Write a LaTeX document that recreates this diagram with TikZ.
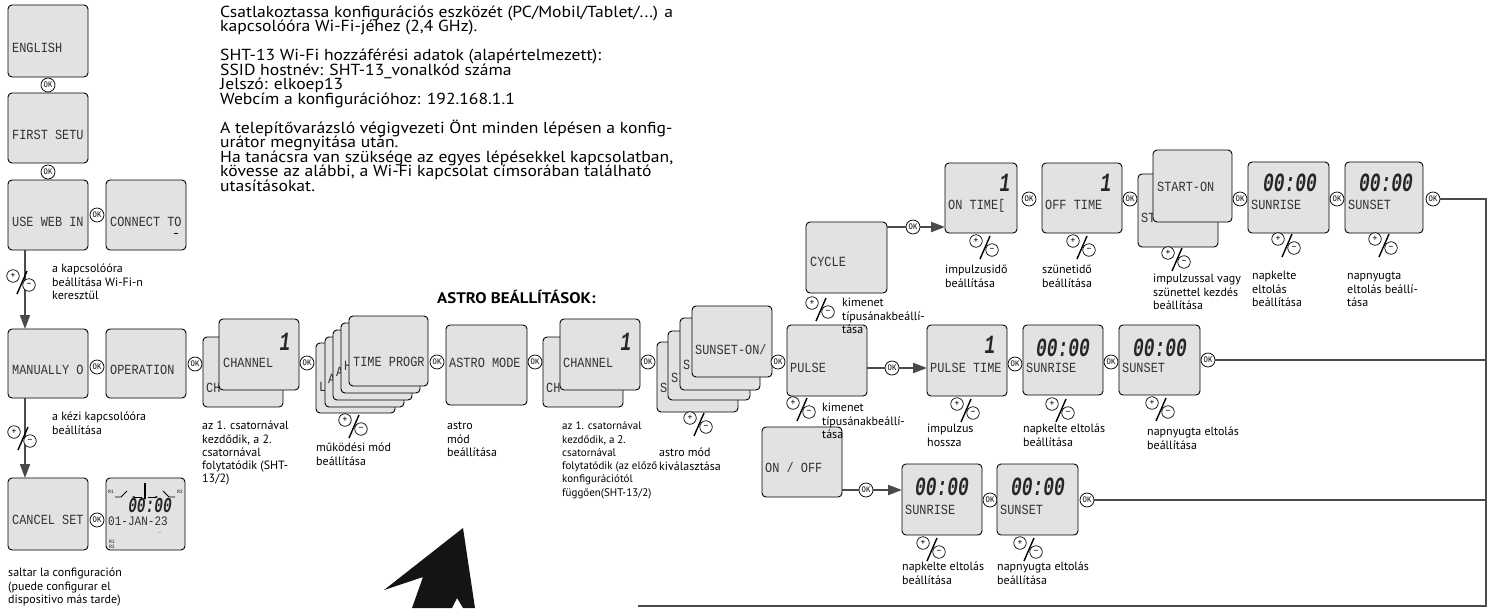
\documentclass[tikz,border=0pt]{standalone}
\usepackage{fontspec}
\usepackage{graphicx}
\setmainfont{PT Sans}
\newfontfamily\widef[FakeStretch=1.1]{PT Sans}
\newfontfamily\lcd[FakeStretch=0.85]{Liberation Mono}
\usetikzlibrary{arrows.meta}
\definecolor{boxfill}{HTML}{E2E2E2}
\definecolor{linecol}{HTML}{4A4A4A}
\newcommand\bigdig[1]{\scalebox{1}[1.25]{#1}}
\newcommand\tightls{\setlength{\lineskiplimit}{-20pt}}
\tikzset{
  lcdbox/.style={draw=black, line width=0.9pt, fill=boxfill, rounded corners=4pt, inner sep=0pt, outer sep=0pt, anchor=north west},
  lcdtxt/.style={anchor=west, inner sep=0pt, text height=8pt, text depth=0pt, font=\lcd\fontsize{14}{14}\selectfont, text=black!80},
  bigd/.style={inner sep=0pt, font=\lcd\bfseries\itshape\fontsize{21}{21}\selectfont, text=black!85},
  okc/.style={circle, draw=black, line width=0.75pt, fill=white, minimum size=14pt, inner sep=0pt, font=\lcd\fontsize{8.5}{8.5}\selectfont},
  pmc/.style={circle, draw=black, line width=0.7pt, fill=white, minimum size=12.5pt, inner sep=0pt, font=\fontsize{9.5}{9.5}\selectfont},
  lbltxt/.style={anchor=north west, inner sep=0pt, align=left, font=\fontsize{12}{13.3}\selectfont\tightls},
  flow/.style={draw=linecol, line width=2.2pt},
  vflow/.style={draw=linecol, line width=1.8pt},
  ret/.style={draw=linecol, line width=2.8pt},
  arr/.style={-{Triangle[length=14pt,width=10pt]}},
  tinyt/.style={inner sep=0pt, font=\lcd\fontsize{5}{5}\selectfont},
  pmsym/.pic={
    \node[pmc] (-p) at (0,0) {+};
    \node[pmc] (-m) at (16,9) {–};
    \draw[line width=1.4pt] (14,-5) -- (4,18);
  }
}
\newcommand\lcdb[5]{\node[lcdbox,minimum width=#4pt,minimum height=#5pt] (#1) at (#2,#3) {};}
\newcommand\lct[4]{\node[lcdtxt] (#1) at (#2,#3) {#4};}
\newcommand\okn[3]{\node[okc] (#1) at (#2,#3) {OK};}
\newcommand\lbl[5][]{\node[lbltxt,#1] (#2) at (#3,#4-7) {\rule{0pt}{11.5pt}#5};}
\newcommand\pmat[3]{\pic (#1) at (#2,#3) {pmsym};}
\begin{document}
\begin{tikzpicture}[x=1pt,y=-1pt]
\useasboundingbox (0,0) rectangle (1496,608);

% header text
\node[anchor=north west, inner sep=0pt, align=left, font=\widef\fontsize{16}{14.5}\selectfont\tightls] (hdr) at (220,4) {\rule{0pt}{13pt}Csatlakoztassa konfigurációs eszközét (PC/Mobil/Tablet/...) a\\
kapcsolóóra Wi-Fi-jéhez (2,4 GHz).\\[14.5pt]
SHT-13 Wi-Fi hozzáférési adatok (alapértelmezett):\\
SSID hostnév: SHT-13\_vonalkód száma\\
Jelszó: elkoep13\\
Webcím a konfigurációhoz: 192.168.1.1\\[14.5pt]
A telepítővarázsló végigvezeti Önt minden lépésen a konfig-\\
urátor megnyitása után.\\
Ha tanácsra van szüksége az egyes lépésekkel kapcsolatban,\\
kövesse az alábbi, a Wi-Fi kapcsolat címsorában található\\
utasításokat.};

\node[anchor=west, inner sep=0pt, font=\widef\bfseries\fontsize{15.3}{15.3}\selectfont] (astrotitle) at (437,297) {ASTRO BEÁLLÍTÁSOK:};

% ---------- left column ----------
\lcdb{eng}{8}{5}{80}{72}   \lct{engt}{12}{48}{ENGLISH}
\lcdb{fs}{8}{93}{80}{70}   \lct{fst}{12}{135}{FIRST SETU}
\lcdb{web}{8}{180}{80}{70} \lct{webt}{12}{222}{USE WEB IN}
\lcdb{con}{106}{180}{80}{70} \lct{cont}{110}{222}{CONNECT TO}
\draw[line width=0.7pt] (con.south east) ++(-8pt,17pt) -- ++(-4pt,0pt);
\okn{ok1}{48}{85}
\okn{ok2}{48}{172}
\okn{ok3}{97}{215}

\lcdb{man}{8}{329}{80}{69} \lct{mant}{12}{370}{MANUALLY O}
\lcdb{op}{106}{329}{80}{69} \lct{opt}{110}{370}{OPERATION}
\okn{ok4}{97}{367}

\lcdb{cancel}{8}{478}{80}{72} \lct{cancelt}{12}{520}{CANCEL SET}
\lcdb{clock}{106}{478}{79}{72}
\okn{okcl}{97}{520}

% vertical connectors
\coordinate (v1) at ([xshift=17pt]web.south west);
\coordinate (v2) at ([xshift=17pt]man.south west);
\draw[vflow,arr] (v1) -- (v1 |- man.north);
\draw[vflow,arr] (v2) -- (v2 |- cancel.north);
\pmat{pm1}{13}{276}
\pmat{pm2}{14}{432}

% clock display
\node[tinyt] (r1) at (111,492) {R1};
\node[tinyt] (r2) at (180,492) {R2};
\draw[line width=0.8pt] (115,497) -- (121,497) -- (127,491);
\draw[line width=0.7pt,-{Stealth[length=3pt]}] (142,497) -- (132,497);
\draw[line width=1.2pt] (145,483) -- (145,499);
\draw[line width=0.7pt,-{Stealth[length=3pt]}] (148,497) -- (158,497);
\draw[line width=0.8pt] (163,491) -- (169,497) -- (175,497);
\node[bigd, font=\lcd\bfseries\itshape\fontsize{17}{17}\selectfont] (clk) at (150,505) {\bigdig{00:00}};
\node[lcdtxt, font=\lcd\fontsize{13}{13}\selectfont] (date) at (108,521) {01-JAN-23};
\node[tinyt] (cur) at (160,533) {\_};
\node[tinyt, align=left] (r12) at (112,544) {R1\\R2};

% ---------- main row ----------
\okn{ok5}{195}{364}
\lcdb{ch1b}{203}{337}{80}{70} \lct{ch1bt}{206}{388}{CH}
\lcdb{ch1f}{219}{319}{80}{71} \lct{ch1ft}{223}{363}{CHANNEL}
\node[bigd] (ch1n) at (285,342) {\bigdig{1}};
\okn{ok6}{307}{363}

\lcdb{tp1}{316}{343}{79}{70} \lct{tp1t}{319}{387}{L}
\lcdb{tp2}{325}{337}{79}{70} \lct{tp2t}{328}{379}{A}
\lcdb{tp3}{333}{330}{79}{70} \lct{tp3t}{336}{372}{A}
\lcdb{tp4}{341}{323}{79}{70} \lct{tp4t}{344}{366}{H}
\lcdb{tp5}{349}{316}{79}{70} \lct{tp5t}{353}{362}{TIME PROGR}
\pmat{pm3}{345}{420}
\okn{ok7}{437}{362}

\lcdb{astro}{446}{325}{81}{80} \lct{astrot}{449}{363}{ASTRO MODE}
\okn{ok8}{535}{362}

\lcdb{ch2b}{543}{337}{80}{70} \lct{ch2bt}{546}{388}{CH}
\lcdb{ch2f}{560}{319}{80}{71} \lct{ch2ft}{563}{363}{CHANNEL}
\node[bigd] (ch2n) at (626,342) {\bigdig{1}};
\okn{ok9}{648}{362}

\lcdb{ss1}{657}{342}{81}{70} \lct{ss1t}{660}{388}{S}
\lcdb{ss2}{668}{331}{82}{69} \lct{ss2t}{671}{378}{SI}
\lcdb{ss3}{680}{318}{80}{72} \lct{ss3t}{683}{365}{S}
\lcdb{ss4}{692}{306}{80}{71} \lct{ss4t}{695}{350}{SUNSET-ON/}
\pmat{pm4}{690}{418}
\okn{ok10}{778}{362}

% ---------- branches ----------
\lcdb{cycle}{806}{222}{81}{71} \lct{cyclet}{810}{262}{CYCLE}
\lcdb{pulse}{787}{325}{80}{71} \lct{pulset}{790}{368}{PULSE}
\lcdb{onoff}{762}{427}{80}{70} \lct{onofft}{765}{468}{ON / OFF}
\pmat{pm5}{812}{303}
\pmat{pm6}{793}{403}

% CYCLE row
\okn{okc}{913}{227}
\lcdb{ontime}{945}{163}{72}{70} \lct{ontimet}{948}{205}{ON TIME[}
\node[bigd] (ontn) at (1005,183) {\bigdig{1}};
\okn{ok11}{1029}{199}
\lcdb{offtime}{1042}{163}{80}{70} \lct{offtimet}{1045}{205}{OFF TIME}
\node[bigd] (offn) at (1106,183) {\bigdig{1}};
\okn{ok12}{1130}{199}
\lcdb{stb}{1138}{174}{80}{73} \lct{stbt}{1141}{218}{ST}
\lcdb{stf}{1153}{150}{79}{72} \lct{stft}{1157}{187}{START-ON}
\okn{ok13}{1240}{199}
\lcdb{sra}{1248}{162}{81}{71} \node[bigd] (srad) at (1290,183) {\bigdig{00:00}}; \lct{srat}{1251}{205}{SUNRISE}
\okn{ok14}{1337}{199}
\lcdb{ssa}{1345}{162}{78}{71} \node[bigd] (ssad) at (1386,183) {\bigdig{00:00}}; \lct{ssat}{1348}{205}{SUNSET}
\okn{ok15}{1433}{199}
\pmat{pm7}{976}{241}
\pmat{pm8}{1073}{241}
\pmat{pm9}{1168}{253}
\pmat{pm10}{1278}{239}
\pmat{pm11}{1375}{239}

% PULSE row
\okn{okp}{892}{368}
\lcdb{pt}{927}{325}{80}{71} \lct{ptt}{930}{368}{PULSE TIME}
\node[bigd] (ptn) at (990,345) {\bigdig{1}};
\okn{ok16}{1015}{364}
\lcdb{srb}{1023}{325}{80}{70} \node[bigd] (srbd) at (1063,348) {\bigdig{00:00}}; \lct{srbt}{1026}{368}{SUNRISE}
\okn{ok17}{1111}{362}
\lcdb{ssb}{1119}{325}{81}{70} \node[bigd] (ssbd) at (1160,348) {\bigdig{00:00}}; \lct{ssbt}{1122}{368}{SUNSET}
\okn{ok18}{1208}{360}
\pmat{pm12}{957}{404}
\pmat{pm13}{1052}{404}
\pmat{pm14}{1152}{403}

% ON/OFF row
\okn{oko}{866}{490}
\lcdb{src}{902}{464}{80}{71} \node[bigd] (srcd) at (942,487) {\bigdig{00:00}}; \lct{srct}{905}{510}{SUNRISE}
\okn{ok19}{990}{500}
\lcdb{ssc}{997}{464}{81}{71} \node[bigd] (sscd) at (1038,487) {\bigdig{00:00}}; \lct{ssct}{1000}{510}{SUNSET}
\okn{ok20}{1087}{500}
\pmat{pm15}{923}{543}
\pmat{pm16}{1020}{543}

% branch connectors
\draw[flow] (okc -| cycle.east) -- (okc.west);
\draw[flow,arr] (okc.east) -- (okc -| ontime.west);
\draw[flow] (okp -| pulse.east) -- (okp.west);
\draw[flow,arr] (okp.east) -- (okp -| pt.west);
\draw[flow] (oko -| onoff.east) -- (oko.west);
\draw[flow,arr] (oko.east) -- (oko -| src.west);

% return lines
\coordinate (rc) at (1486,606);
\coordinate (bend) at (638,606);
\draw[ret] (ok15.east) -| (rc) -- (bend);
\draw[ret] (ok18.east) -- (ok18.east -| rc);
\draw[ret] (ok20.east) -- (ok20.east -| rc);

% ---------- labels ----------
\lbl{l1}{52}{268}{a kapcsolóóra\\beállítása Wi-Fi-n\\keresztül}
\lbl{l2}{52}{416}{a kézi kapcsolóóra\\beállítása}
\lbl{l3}{8}{572}{saltar la configuración\\(puede configurar el\\dispositivo más tarde)}
\lbl{l4}{202}{425}{az 1. csatornával\\kezdődik, a 2.\\csatornával\\folytatódik (SHT-\\13/2)}
\lbl{l5}{316}{447}{működési mód\\beállítása}
\lbl{l6}{447}{425}{astro\\mód\\beállítása}
\lbl[font=\fontsize{11}{13.3}\selectfont\tightls]{l7}{562}{425}{az 1. csatornával\\kezdődik, a 2.\\csatornával\\folytatódik (az előző\\konfigurációtól\\függően(SHT-13/2)}
\lbl{l8}{659}{452}{astro mód\\kiválasztása}
\lbl{l9}{842}{302}{kimenet\\típusánakbeállí-\\tása}
\lbl{l10}{822}{407}{kimenet\\típusánakbeállí-\\tása}
\lbl{l11}{945}{269}{impulzusidő\\beállítása}
\lbl{l12}{1042}{269}{szünetidő\\beállítása}
\lbl{l13}{1153}{278}{impulzussal vagy\\szünettel kezdés\\beállítása}
\lbl{l14}{1252}{275}{napkelte\\eltolás\\beállítása}
\lbl{l15}{1347}{275}{napnyugta\\eltolás beállí-\\tása}
\lbl{l16}{927}{428}{impulzus\\hossza}
\lbl{l17}{1023}{428}{napkelte eltolás\\beállítása}
\lbl{l18}{1147}{431}{napnyugta eltolás\\beállítása}
\lbl{l19}{902}{566}{napkelte eltolás\\beállítása}
\lbl{l20}{997}{566}{napnyugta eltolás\\beállítása}

% big arrow
\fill[black!92] (463,528) -- (475,608) -- (463,608) -- (457,598) -- (452,608) -- (412,608) -- (423,577) -- (384,590) -- cycle;
\end{tikzpicture}
\end{document}
